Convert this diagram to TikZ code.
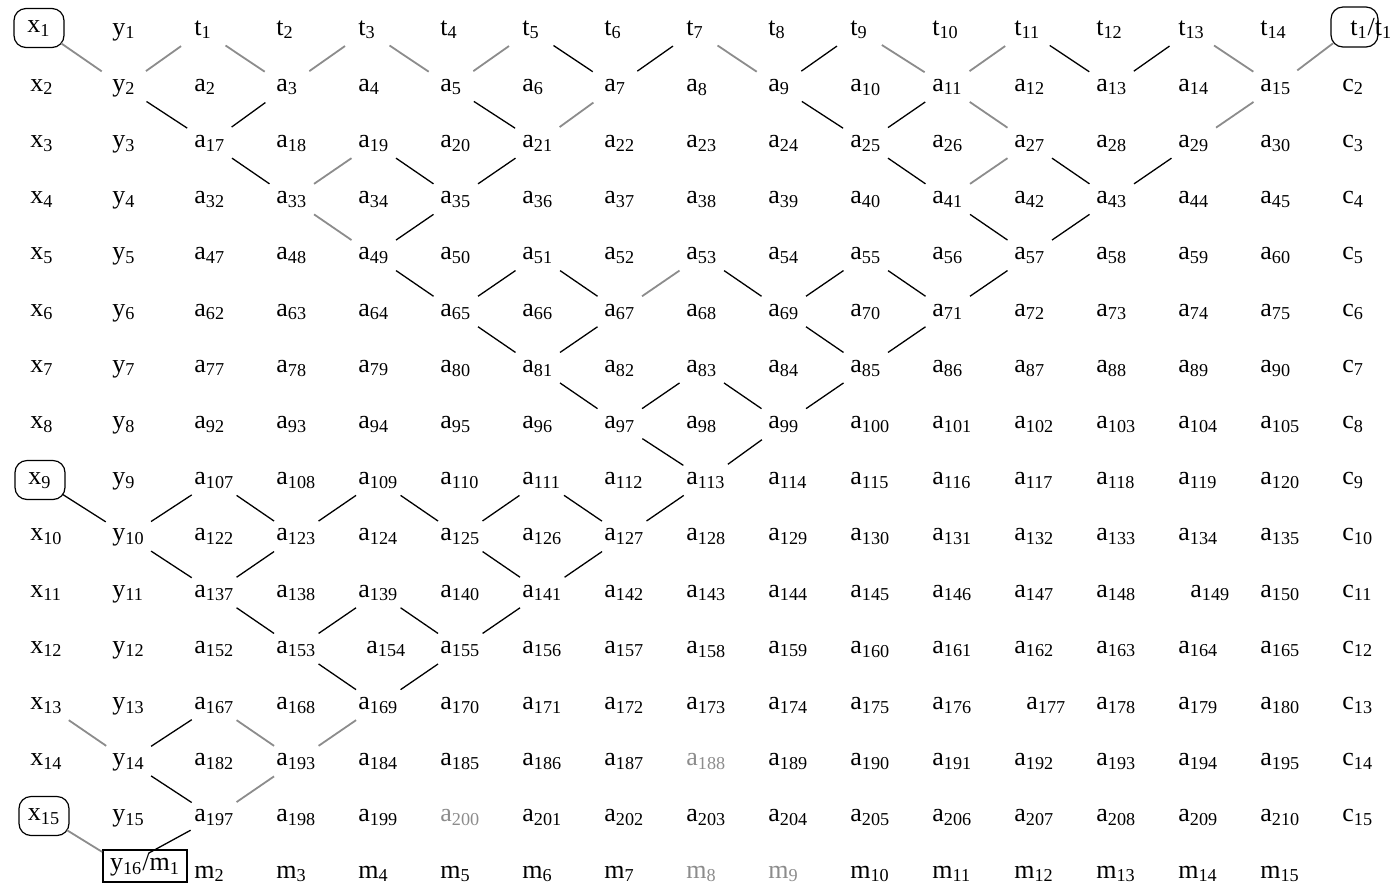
\documentclass[tikz,border=0pt]{standalone}
\usepackage{fontspec}
\setmainfont{Liberation Serif}

\begin{document}
\begin{tikzpicture}[x=0.5pt,y=-0.5pt,font=\fontsize{13}{15}\selectfont,
  lbl/.style={anchor=base west,inner sep=0pt,text height=7pt,text depth=2.5pt},
  rbox/.style={draw,rounded corners=6pt,inner sep=0pt,line width=0.6pt,text height=7pt,text depth=2.5pt,
    minimum width=25pt,minimum height=19.5pt},
  sbox/.style={draw,inner sep=0pt,line width=0.6pt,text height=7pt,text depth=2.5pt},
  lnk/.style={line width=0.65pt,shorten <=13.5pt,shorten >=13.5pt},
  lnkg/.style={lnk,draw=black!45,line width=0.9pt},
  % odd cells of the scan
  a149/.style={xshift=6pt}, a154/.style={xshift=4pt}, a177/.style={xshift=6pt},
  a188/.style={text=black!45}, a200/.style={text=black!45},
  m8/.style={text=black!45}, m9/.style={text=black!45}]
\useasboundingbox (0,0) rectangle (1394,891);
% ---------- first two columns: x and y ----------
\node[rbox] (v-1-1) at (39,28) {x\textsubscript{1}};
\node[rbox] (v-1-9) at (40,480) {x\textsubscript{9}};
\node[rbox] (v-1-15) at (44,816) {x\textsubscript{15}};
\foreach \r in {2,...,8,10,11,12,13,14}{
  \node[lbl] (v-1-\r) at (30,{35+56.2*(\r-1)}) {x\textsubscript{\r}}; }
\foreach \r in {1,...,15}{
  \node[lbl] (v-2-\r) at (112,{35+56.2*(\r-1)}) {y\textsubscript{\r}}; }
% ---------- top row: t ----------
\foreach \c in {3,...,16}{
  \pgfmathtruncatemacro\k{\c-2}
  \node[lbl] (v-\c-1) at ({30+82*(\c-1)},35) {t\textsubscript{\k}}; }
\node[rbox,minimum width=23.5pt,minimum height=20pt] (v-17-1) at (1354.5,27) {};
\node[lbl] (tt) at (1350,35) {t\textsubscript{1}/t\textsubscript{1}};
% ---------- body: a and c ----------
\foreach \r in {2,...,15}{
  \foreach \c in {3,...,16}{
    \pgfmathtruncatemacro\k{15*(\r-2)+\c-1}
    \ifnum\k=183 \def\k{193}\fi
    \node[lbl,a\k/.try] (v-\c-\r) at ({30+82*(\c-1)},{35+56.2*(\r-1)}) {a\textsubscript{\k}}; }
  \node[lbl] (v-17-\r) at (1342,{35+56.2*(\r-1)}) {c\textsubscript{\r}}; }
% ---------- bottom row: m ----------
\node[sbox,minimum width=42pt,minimum height=16pt] (ym) at (145,866) {y\textsubscript{16}/m\textsubscript{1}};
\coordinate (v-2-16) at ([xshift=-10pt]ym.center);
\foreach \c in {3,...,16}{
  \pgfmathtruncatemacro\k{\c-1}
  \node[lbl,m\k/.try] (v-\c-16) at ({30+82*(\c-1)},878) {m\textsubscript{\k}}; }
% ---------- connectors ----------
\foreach \a/\b in {7-1/8-2,8-2/9-1,10-2/11-1,13-1/14-2,14-2/15-1,
    2-2/3-3,3-3/4-2,6-2/7-3,10-2/11-3,11-3/12-2,
    3-3/4-4,5-3/6-4,6-4/7-3,11-3/12-4,13-3/14-4,14-4/15-3,
    5-5/6-4,12-4/13-5,13-5/14-4,
    5-5/6-6,6-6/7-5,7-5/8-6,9-5/10-6,10-6/11-5,11-5/12-6,12-6/13-5,
    6-6/7-7,7-7/8-6,10-6/11-7,11-7/12-6,
    7-7/8-8,8-8/9-7,9-7/10-8,10-8/11-7,
    8-8/9-9,9-9/10-8,
    1-9/2-10,2-10/3-9,3-9/4-10,4-10/5-9,5-9/6-10,6-10/7-9,7-9/8-10,8-10/9-9,
    2-10/3-11,3-11/4-10,6-10/7-11,7-11/8-10,
    3-11/4-12,4-12/5-11,5-11/6-12,6-12/7-11,
    4-12/5-13,5-13/6-12,
    2-14/3-13,2-14/3-15,2-16/3-15}
  \draw[lnk] (v-\a.center) -- (v-\b.center);
% faint strokes of the scan
\foreach \a/\b in {1-1/2-2,2-2/3-1,3-1/4-2,4-2/5-1,5-1/6-2,6-2/7-1,9-1/10-2,
    11-1/12-2,12-2/13-1,15-1/16-2,16-2/17-1,
    8-2/7-3,12-2/13-3,16-2/15-3,5-3/4-4,13-3/12-4,4-4/5-5,8-6/9-5,
    1-13/2-14,3-13/4-14,4-14/5-13,3-15/4-14,1-15/2-16}
  \draw[lnkg] (v-\a.center) -- (v-\b.center);
\end{tikzpicture}
\end{document}
